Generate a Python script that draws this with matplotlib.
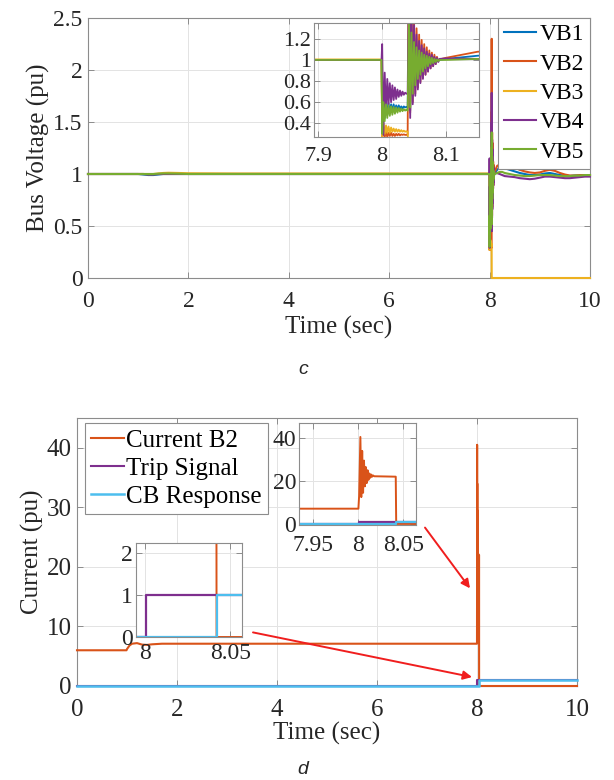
"""Bus voltages and breaker current around the fault at t = 8 s."""
import numpy as np
import matplotlib
matplotlib.use("Agg")
import matplotlib.pyplot as plt

# =============================================================================
# Data
# =============================================================================
# Bus voltages (pu): pre-fault, fault, recovery and post-fault segments
t_pre = [0.0, 1.0, 1.1, 1.2, 1.3, 1.4, 1.5, 1.6, 1.8, 2.0, 3.0, 4.0, 5.0, 6.0, 7.0, 7.999]
t_fault = [8.000, 8.002, 8.004, 8.006, 8.008, 8.010, 8.012, 8.014, 8.016, 8.018, 8.020,
           8.022, 8.024, 8.026, 8.028, 8.030, 8.032, 8.034, 8.036, 8.038, 8.040]
t_rec = [8.042, 8.044, 8.046, 8.048, 8.050, 8.052, 8.054, 8.056, 8.058, 8.060, 8.062,
         8.064, 8.066, 8.068, 8.070, 8.072, 8.074, 8.076, 8.078, 8.080, 8.082, 8.084,
         8.086, 8.088, 8.090]
t_post = [8.1, 8.15, 8.2, 8.25, 8.3, 8.4, 8.5, 8.6, 8.7, 8.8, 8.9, 9.0, 9.1, 9.2, 9.3,
          9.4, 9.5, 9.6, 9.7, 9.8, 9.9, 10.0]

vb1_pre = [1.0, 1.0, 0.995, 0.99, 0.99, 0.995, 1.0, 1.0, 1.0, 1.0, 1.0, 1.0, 1.0, 1.0, 1.0, 1.0]
vb2_pre = [1.0, 1.0, 1.0, 0.997, 0.997, 1.0, 1.0, 1.0, 1.0, 1.0, 1.0, 1.0, 1.0, 1.0, 1.0, 1.0]
vb3_pre = [1.0, 1.0, 1.0, 1.0, 1.0, 1.005, 1.01, 1.012, 1.01, 1.007, 1.005, 1.005, 1.005,
           1.005, 1.005, 1.005]
vb4_pre = [1.0, 1.0, 1.0, 0.998, 0.998, 1.0, 1.0, 1.0, 1.0, 1.0, 1.0, 1.0, 1.0, 1.0, 1.0, 1.0]
vb5_pre = [1.0, 1.0, 1.0, 1.0, 1.0, 1.003, 1.005, 1.005, 1.003, 1.0, 1.0, 1.0, 1.0, 1.0, 1.0, 1.0]

vb1_fault = [0.42, 0.60, 0.45, 0.60, 0.48, 0.59, 0.50, 0.58, 0.51, 0.58, 0.52, 0.57, 0.53,
             0.57, 0.54, 0.56, 0.54, 0.56, 0.55, 0.555, 0.55]
vb2_fault = [0.27, 0.33, 0.27, 0.32, 0.27, 0.31, 0.28, 0.31, 0.28, 0.30, 0.28, 0.30, 0.285,
             0.30, 0.285, 0.295, 0.29, 0.295, 0.29, 0.29, 0.29]
vb3_fault = [0.27, 0.40, 0.30, 0.38, 0.31, 0.37, 0.31, 0.36, 0.32, 0.35, 0.32, 0.345, 0.32,
             0.34, 0.32, 0.335, 0.32, 0.33, 0.32, 0.325, 0.32]
vb4_fault = [1.15, 0.29, 0.88, 0.50, 0.82, 0.58, 0.78, 0.60, 0.76, 0.62, 0.74, 0.63, 0.72,
             0.65, 0.71, 0.66, 0.70, 0.67, 0.69, 0.68, 0.68]
vb5_fault = [0.30, 0.60, 0.42, 0.58, 0.45, 0.57, 0.47, 0.56, 0.48, 0.555, 0.49, 0.55, 0.50,
             0.545, 0.51, 0.54, 0.515, 0.535, 0.52, 0.53, 0.52]

vb1_rec = [1.30, 0.52, 1.24, 0.66, 1.16, 0.74, 1.11, 0.80, 1.08, 0.85, 1.06, 0.88, 1.05,
           0.91, 1.04, 0.93, 1.03, 0.95, 1.02, 0.97, 1.01, 0.98, 1.005, 0.99, 1.0]
vb2_rec = [2.30, 0.50, 1.60, 0.60, 1.40, 0.68, 1.30, 0.74, 1.24, 0.79, 1.19, 0.83, 1.15,
           0.86, 1.12, 0.89, 1.09, 0.92, 1.07, 0.94, 1.05, 0.96, 1.03, 0.99, 1.005]
vb3_rec = [0.0, 0.0, 0.0, 0.0, 0.0, 0.0, 0.0, 0.0, 0.0, 0.0, 0.0, 0.0, 0.0, 0.0, 0.0, 0.0,
           0.0, 0.0, 0.0, 0.0, 0.0, 0.0, 0.0, 0.0, 0.0]
vb4_rec = [1.78, 0.45, 1.50, 0.58, 1.33, 0.66, 1.24, 0.72, 1.18, 0.78, 1.14, 0.82, 1.11,
           0.86, 1.08, 0.89, 1.06, 0.92, 1.05, 0.94, 1.03, 0.96, 1.02, 0.98, 1.01]
vb5_rec = [1.40, 0.55, 1.26, 0.68, 1.17, 0.76, 1.12, 0.82, 1.09, 0.86, 1.07, 0.89, 1.05,
           0.92, 1.04, 0.94, 1.03, 0.96, 1.02, 0.97, 1.01, 0.98, 1.005, 0.99, 1.0]

vb1_post = [1.01, 1.04, 1.06, 1.06, 1.055, 1.04, 1.025, 1.01, 1.0, 0.99, 0.99, 0.995, 1.005,
            1.01, 1.0, 0.99, 0.985, 0.98, 0.985, 0.985, 0.99, 0.99]
vb2_post = [1.02, 1.078, 1.09, 1.095, 1.09, 1.075, 1.06, 1.04, 1.025, 1.015, 1.01, 1.015,
            1.03, 1.04, 1.03, 1.01, 0.995, 0.985, 0.985, 0.99, 0.99, 0.99]
vb3_post = [0.0, 0.0, 0.0, 0.0, 0.0, 0.0, 0.0, 0.0, 0.0, 0.0, 0.0, 0.0, 0.0, 0.0, 0.0, 0.0,
            0.0, 0.0, 0.0, 0.0, 0.0, 0.0]
vb4_post = [1.015, 1.01, 1.0, 0.99, 0.98, 0.975, 0.97, 0.96, 0.955, 0.95, 0.955, 0.965, 0.975,
            0.975, 0.97, 0.965, 0.96, 0.96, 0.965, 0.97, 0.975, 0.975]
vb5_post = [1.0, 1.01, 1.02, 1.02, 1.01, 1.0, 0.99, 0.985, 0.98, 0.98, 0.985, 0.99, 0.99,
            0.99, 0.985, 0.98, 0.98, 0.98, 0.985, 0.985, 0.99, 0.99]

# Breaker current, trip signal and CB response (pu)
t_cur = [0.0, 0.99, 1.0, 1.05, 1.1, 1.2, 1.3, 1.4, 1.5, 1.7, 2.0, 3.0, 4.0, 5.0, 6.0, 7.0,
         8.0, 8.0008, 8.0022, 8.0032, 8.0042, 8.0052, 8.0062, 8.0072, 8.0082, 8.0092,
         8.0102, 8.0112, 8.0122, 8.0132, 8.0142, 8.0152, 8.0162, 8.0175, 8.030, 8.0415,
         8.042, 9.0, 10.0]
i_b2 = [6.0, 6.0, 6.2, 6.8, 7.1, 7.2, 6.95, 6.9, 7.0, 7.1, 7.1, 7.1, 7.1, 7.1, 7.1, 7.1,
        7.1, 13.0, 40.5, 12.5, 34.0, 14.5, 29.5, 17.5, 26.5, 19.0, 25.0, 20.5, 23.5, 21.5,
        23.0, 22.0, 22.6, 22.2, 22.1, 22.0, 0.0, 0.0, 0.0]
t_trip = [0.0, 8.0005, 8.0005, 10.0]
trip = [0, 0, 1, 1]
t_cb = [0.0, 8.042, 8.042, 10.0]
cb = [0, 0, 1, 1]

C_BLUE = "#0072BD"
C_RED = "#D95319"
C_YEL = "#EDB120"
C_PUR = "#7E2F8E"
C_GRN = "#77AC30"
C_CYAN = "#4DBEEE"

plt.rcParams["font.family"] = ["Liberation Serif", "DejaVu Serif"]


def style_axes(ax, size, xpad=4, ypad=4):
    """MATLAB-like box, grid and inward ticks."""
    for s in ax.spines.values():
        s.set_color("#8c8c8c")
        s.set_linewidth(0.8)
    ax.grid(True, color="#e3e3e3", linewidth=0.7)
    ax.set_axisbelow(True)
    ax.tick_params(direction="in", length=4, width=0.7, color="#8c8c8c",
                   top=True, right=True, labelsize=size, labelcolor="#262626")
    ax.tick_params(axis="x", pad=xpad)
    ax.tick_params(axis="y", pad=ypad)


def join(*parts):
    return np.concatenate([np.asarray(p, dtype=float) for p in parts])


def framed_legend(ax, **kw):
    leg = ax.legend(borderaxespad=0, fancybox=False, framealpha=1, **kw)
    leg.get_frame().set_edgecolor("#8c8c8c")
    leg.get_frame().set_linewidth(0.8)
    return leg


t_v = join(t_pre, t_fault, t_rec, t_post)
voltages = [
    ("VB1", join(vb1_pre, vb1_fault, vb1_rec, vb1_post), C_BLUE),
    ("VB2", join(vb2_pre, vb2_fault, vb2_rec, vb2_post), C_RED),
    ("VB3", join(vb3_pre, vb3_fault, vb3_rec, vb3_post), C_YEL),
    ("VB4", join(vb4_pre, vb4_fault, vb4_rec, vb4_post), C_PUR),
    ("VB5", join(vb5_pre, vb5_fault, vb5_rec, vb5_post), C_GRN),
]

fig = plt.figure(figsize=(6.14, 7.8), dpi=100)

# -----------------------------------------------------------------------------
# (c) bus voltages
# -----------------------------------------------------------------------------
ax1 = fig.add_axes([88 / 614, 1 - 278 / 780, 502 / 614, 260 / 780])
for name, v, col in voltages:
    ax1.plot(t_v, v, color=col, lw=1.5, label=name, clip_on=False, zorder=3)
ax1.set_xlim(0, 10)
ax1.set_ylim(0, 2.5)
ax1.set_xticks([0, 2, 4, 6, 8, 10])
ax1.set_yticks([0, 0.5, 1, 1.5, 2, 2.5])
ax1.set_yticklabels(["0", "0.5", "1", "1.5", "2", "2.5"])
style_axes(ax1, 17, xpad=9)
ax1.set_xlabel("Time (sec)", fontsize=18, labelpad=3, color="#262626")
ax1.set_ylabel("Bus Voltage (pu)", fontsize=18, labelpad=2, color="#262626")
framed_legend(ax1, loc="upper right", bbox_to_anchor=(1, 1), fontsize=17,
              handlelength=1.35, handletextpad=0.15, labelspacing=0.33, borderpad=0.25)

ins1 = fig.add_axes([314 / 614, 1 - 137 / 780, 165 / 614, 114 / 780])
for name, v, col in voltages:
    ins1.plot(t_v, v, color=col, lw=1.3)
ins1.set_xlim(7.893, 8.152)
ins1.set_ylim(0.27, 1.35)
ins1.set_xticks([7.9, 8.0, 8.1])
ins1.set_xticklabels(["7.9", "8", "8.1"])
ins1.set_yticks([0.4, 0.6, 0.8, 1.0, 1.2])
ins1.set_yticklabels(["0.4", "0.6", "0.8", "1", "1.2"])
style_axes(ins1, 16, xpad=7, ypad=2)

fig.text(303 / 614, 1 - 370 / 780, "c", family="Liberation Sans", style="italic",
         fontsize=14, ha="center", va="center", color="#262626")

# -----------------------------------------------------------------------------
# (d) breaker current
# -----------------------------------------------------------------------------
ax2 = fig.add_axes([77 / 614, 1 - 686 / 780, 500 / 614, 268 / 780])
ax2.plot(t_cur, i_b2, color=C_RED, lw=1.5, label="Current B2", clip_on=False, zorder=3)
ax2.plot(t_trip, trip, color=C_PUR, lw=1.5, label="Trip Signal", clip_on=False, zorder=3)
ax2.plot(t_cb, cb, color=C_CYAN, lw=1.8, label="CB Response", clip_on=False, zorder=3)
ax2.set_xlim(0, 10)
ax2.set_ylim(0, 45)
ax2.set_xticks([0, 2, 4, 6, 8, 10])
ax2.set_yticks([0, 10, 20, 30, 40])
style_axes(ax2, 18, xpad=9)
ax2.set_xlabel("Time (sec)", fontsize=18, labelpad=1, color="#262626")
ax2.set_ylabel("Current (pu)", fontsize=18, labelpad=2, color="#262626")
framed_legend(ax2, loc="upper left", bbox_to_anchor=(8 / 500, 1 - 5 / 268), fontsize=18,
              handlelength=1.3, handletextpad=0.1, labelspacing=0.22, borderpad=0.25)

arrow = dict(arrowstyle="-|>", color="#f01e1e", lw=1.4, mutation_scale=13,
             shrinkA=0, shrinkB=0)
ax2.annotate("", xy=(7.86, 16.4), xytext=(6.96, 26.6), arrowprops=arrow)
ax2.annotate("", xy=(7.9, 1.5), xytext=(3.52, 9.0), arrowprops=arrow)

ins2 = fig.add_axes([299 / 614, 1 - 525 / 780, 117 / 614, 102 / 780])
ins2.plot(t_cur, i_b2, color=C_RED, lw=1.4)
ins2.plot(t_trip, trip, color=C_PUR, lw=1.6)
ins2.plot(t_cb, cb, color=C_CYAN, lw=1.6)
ins2.set_xlim(7.934, 8.064)
ins2.set_ylim(-0.5, 47)
ins2.set_xticks([7.95, 8.0, 8.05])
ins2.set_xticklabels(["7.95", "8", "8.05"])
ins2.set_yticks([0, 20, 40])
style_axes(ins2, 17, xpad=7, ypad=2)

ins3 = fig.add_axes([136 / 614, 1 - 637 / 780, 106 / 614, 94 / 780])
ins3.plot(t_cur, i_b2, color=C_RED, lw=1.4)
ins3.plot(t_trip, trip, color=C_PUR, lw=1.6)
ins3.plot(t_cb, cb, color=C_CYAN, lw=1.6)
ins3.set_xlim(7.9945, 8.057)
ins3.set_ylim(0, 2.25)
ins3.set_xticks([8.0, 8.05])
ins3.set_xticklabels(["8", "8.05"])
ins3.set_yticks([0, 1, 2])
style_axes(ins3, 17, xpad=4, ypad=2)

fig.text(303 / 614, 1 - 770 / 780, "d", family="Liberation Sans", style="italic",
         fontsize=14, ha="center", va="center", color="#262626")

fig.savefig("out.png", dpi=100)
